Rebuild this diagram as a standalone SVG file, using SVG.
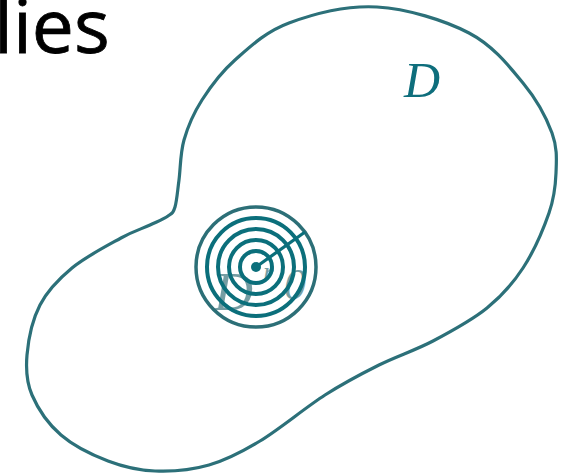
<svg xmlns="http://www.w3.org/2000/svg" width="567" height="476" viewBox="0 0 567 476">
<style>
.outline{fill:none;stroke:#2c7079;stroke-width:3.2}
.ring{fill:none;stroke:#0b6f7b;stroke-width:4}
.ringo{fill:none;stroke:#2c6f77;stroke-width:3.5}
.faded{font-family:"Liberation Serif",serif;font-style:italic;fill:#5e8d93;opacity:0.85}
</style>
<rect width="567" height="476" fill="#ffffff"/>
<text x="-6" y="53" font-family="Open Sans, sans-serif" font-size="75" fill="#000000" stroke="#000000" stroke-width="0.8">lies</text>
<g id="domain">
<path class="outline" d="M175,207 C176.8,201 177.5,191.2 179,180 C180.5,168.8 180.2,153.3 184,140 C187.8,126.7 193.5,113.3 202,100 C210.5,86.7 220.5,72.8 235,60 C249.5,47.2 265.3,31.8 289,23 C312.7,14.2 347,5.3 377,7 C407,8.7 444.7,20.3 469,33 C493.3,45.7 509.2,66.3 523,83 C536.8,99.7 546.5,118 552,133 C557.5,148 556.5,159.7 556,173 C555.5,186.3 554.5,197.2 549,213 C543.5,228.8 533.3,252.2 523,268 C512.7,283.8 502,295.8 487,308 C472,320.2 451,331.5 433,341 C415,350.5 397,356 379,365 C361,374 344.8,382.3 325,395 C305.2,407.7 279.3,429.3 260,441 C240.7,452.7 226.5,460 209,465 C191.5,470 171.8,471.7 155,471 C138.2,470.3 123.7,467 108,461 C92.3,455 73.7,446 61,435 C48.3,424 37.7,408.3 32,395 C26.3,381.7 25.7,370 27,355 C28.3,340 32.5,319.5 40,305 C47.5,290.5 58.5,279.2 72,268 C85.5,256.8 108,245.2 121,238 C134,230.8 142.2,228.7 150,225 C157.8,221.3 163.8,219 168,216 C172.2,213 173.2,213 175,207 Z"/>
<text x="404" y="97" font-family="Liberation Serif, serif" font-style="italic" font-size="50" fill="#0e6e7c">D</text>
</g>
<g id="disk">
<text class="faded" x="214" y="310" font-size="54">D</text>
<text class="faded" x="263" y="281" font-size="28">r</text>
<text class="faded" x="284" y="299" font-size="44">0</text>
<circle class="ringo" cx="256" cy="267" r="60"/>
<circle class="ring" cx="256" cy="267" r="49"/>
<circle class="ring" cx="256" cy="267" r="38"/>
<circle class="ring" cx="256" cy="267" r="27"/>
<circle class="ring" cx="256" cy="267" r="16"/>
<line x1="256" y1="267" x2="305" y2="232" stroke="#0b6f7b" stroke-width="3.2"/>
<circle cx="256" cy="267" r="5" fill="#0b6f7b"/>
</g>
</svg>
